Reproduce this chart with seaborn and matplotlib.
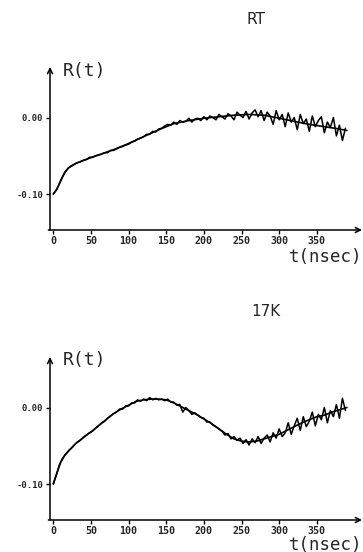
import numpy as np
import pandas as pd
import matplotlib
matplotlib.use("Agg")
import matplotlib.pyplot as plt
import seaborn as sns

# ---------------- data ----------------
t_data = list(range(0, 389, 4))

rt_data = [
    -0.100, -0.095, -0.087, -0.078, -0.071, -0.066, -0.063, -0.061, -0.059, -0.058,
    -0.056, -0.055, -0.052, -0.052, -0.050, -0.049, -0.048, -0.046, -0.046, -0.043,
    -0.043, -0.041, -0.039, -0.038, -0.036, -0.035, -0.032, -0.031, -0.028, -0.027,
    -0.025, -0.022, -0.022, -0.018, -0.019, -0.015, -0.014,
    -0.011, -0.009, -0.010, -0.006, -0.009, -0.004, -0.006, -0.005, -0.001, -0.006,
    -0.002, -0.001, -0.004, 0.001, -0.003, 0.002, 0.000, -0.003, 0.004, 0.001,
    -0.002, 0.005, 0.002, -0.003, 0.007, 0.003, 0.000, 0.008, -0.002, 0.006,
    0.010, 0.001, 0.009, -0.004, 0.007, 0.002, -0.009, 0.009, -0.003, 0.004,
    -0.012, 0.006, -0.006, 0.000, -0.016, 0.004, -0.008, -0.002, -0.018, 0.002,
    -0.012, -0.004, 0.001, -0.020, -0.006, -0.013, 0.000, -0.024, -0.010, -0.030,
    -0.014,
]

k17_data = [
    -0.100, -0.088, -0.075, -0.067, -0.061, -0.057, -0.053, -0.049, -0.045, -0.043,
    -0.039, -0.036, -0.033, -0.031, -0.027, -0.024, -0.020, -0.018, -0.014, -0.011,
    -0.008, -0.006, -0.002, -0.002, 0.002,
    0.002, 0.006, 0.006, 0.010, 0.008, 0.011, 0.009, 0.013, 0.010, 0.012,
    0.010, 0.011, 0.009, 0.011, 0.007, 0.007, 0.003, 0.004, -0.006, 0.000,
    -0.004, -0.009, -0.007, -0.010, -0.013, -0.014, -0.019, -0.019, -0.023, -0.025,
    -0.028, -0.031, -0.036, -0.034, -0.041, -0.038, -0.043, -0.040, -0.047, -0.042,
    -0.049, -0.041, -0.046, -0.038, -0.047, -0.040, -0.036, -0.045, -0.033, -0.040,
    -0.028, -0.038, -0.033, -0.020, -0.035, -0.024, -0.014, -0.030, -0.012, -0.025,
    -0.018, -0.006, -0.024, -0.009, -0.016, 0.000, -0.020, -0.004, -0.012, 0.004,
    -0.014, 0.012, -0.004,
]

t_fit_rt = [0, 5, 10, 15, 20, 30, 40, 60, 80, 100, 120, 140, 160, 180, 200,
            220, 240, 260, 280, 300, 320, 340, 360, 380, 390]
rt_fit = [-0.100, -0.093, -0.082, -0.072, -0.066, -0.060, -0.056, -0.049, -0.042,
          -0.034, -0.025, -0.016, -0.008, -0.004, -0.001, 0.001, 0.003, 0.004,
          0.003, -0.001, -0.005, -0.009, -0.012, -0.015, -0.017]

t_fit_17k = [0, 5, 10, 15, 20, 30, 40, 50, 60, 70, 80, 90, 100, 110, 120, 130,
             140, 150, 160, 170, 180, 190, 200, 210, 220, 230, 240, 250, 260, 270,
             280, 290, 300, 310, 320, 330, 340, 350, 360, 370, 380, 390]
k17_fit = [-0.100, -0.085, -0.071, -0.063, -0.057, -0.047, -0.039, -0.032, -0.024,
           -0.016, -0.008, -0.002, 0.003, 0.008, 0.010, 0.011, 0.011, 0.010, 0.006,
           0.001, -0.004, -0.009, -0.015, -0.021, -0.028, -0.035, -0.041, -0.044,
           -0.045, -0.044, -0.041, -0.038, -0.035, -0.030, -0.025, -0.020, -0.016,
           -0.012, -0.010, -0.006, -0.003, 0.000]

x_major = [0, 50, 100, 150, 200, 250, 300, 350]
x_labels = ["0", "50", "100", "150", "200", "250", "300", "350"]
y_major = [0.0, -0.10]
y_labels = ["0.00", "-0.10"]
titles = ["RT", "17K"]

# ---------------- figure ----------------
sns.set_style("white")
W, H = 363, 552
fig = plt.figure(figsize=(W / 100, H / 100), dpi=100)

def fx(px):
    return px / W

def fy(py):
    return 1 - py / H

panels = [
    dict(top=67, bottom=230, data=rt_data, tf=t_fit_rt, fit=rt_fit, title=titles[0],
         title_xy=(256, 19), rlab_y=71, tlab_y=257),
    dict(top=357, bottom=520, data=k17_data, tf=t_fit_17k, fit=k17_fit, title=titles[1],
         title_xy=(266, 312), rlab_y=360, tlab_y=544.5),
]

left_px, right_px = 50, 362
mono = "DejaVu Sans Mono"

for p in panels:
    ax = fig.add_axes([fx(left_px), fy(p["bottom"]), fx(right_px - left_px),
                       (p["bottom"] - p["top"]) / H])
    ax.set_facecolor("none")
    df = pd.DataFrame({"t": t_data, "R": p["data"]})
    dff = pd.DataFrame({"t": p["tf"], "R": p["fit"]})
    sns.lineplot(data=df, x="t", y="R", ax=ax, color="black", lw=1.1)
    sns.lineplot(data=dff, x="t", y="R", ax=ax, color="black", lw=1.2)
    ax.set_xlim(-4.4, 410)
    ax.set_ylim(-0.147, 0.066)
    for s in ax.spines.values():
        s.set_visible(False)
    ax.set_xlabel("")
    ax.set_ylabel("")
    ax.set_xticks(x_major)
    ax.set_xticklabels(x_labels, fontsize=7.2, fontweight="bold", family=mono)
    ax.set_xticks([25, 75, 125, 175, 225, 275, 325, 375], minor=True)
    ax.set_yticks(y_major)
    ax.set_yticklabels(y_labels, fontsize=6.5, fontweight="bold", family=mono)
    ax.set_yticks([-0.05], minor=True)
    ax.tick_params(axis="both", which="both", direction="out", length=3, width=1,
                   color="black", pad=2)
    ax.tick_params(axis="x", which="major", pad=1.5)
    ax.tick_params(left=True, bottom=True)
    # axis lines with arrowheads
    ax.annotate("", xy=(1.0, 0.0), xytext=(-0.005, 0.0), xycoords="axes fraction",
                arrowprops=dict(arrowstyle="->", lw=1.1, color="black",
                                mutation_scale=9, shrinkA=0, shrinkB=0))
    ax.annotate("", xy=(0.0, 1.0), xytext=(0.0, 0.0), xycoords="axes fraction",
                arrowprops=dict(arrowstyle="->", lw=1.1, color="black",
                                mutation_scale=9, shrinkA=0, shrinkB=0))
    fig.text(fx(p["title_xy"][0]), fy(p["title_xy"][1]), p["title"], ha="center",
             va="center", fontsize=11, family="DejaVu Sans")
    fig.text(fx(63), fy(p["rlab_y"]), "R(t)", ha="left", va="center", fontsize=13,
             family=mono)
    fig.text(fx(362), fy(p["tlab_y"]), "t(nsec)", ha="right", va="center",
             fontsize=12.5, family=mono)

fig.savefig("out.png", dpi=100)
